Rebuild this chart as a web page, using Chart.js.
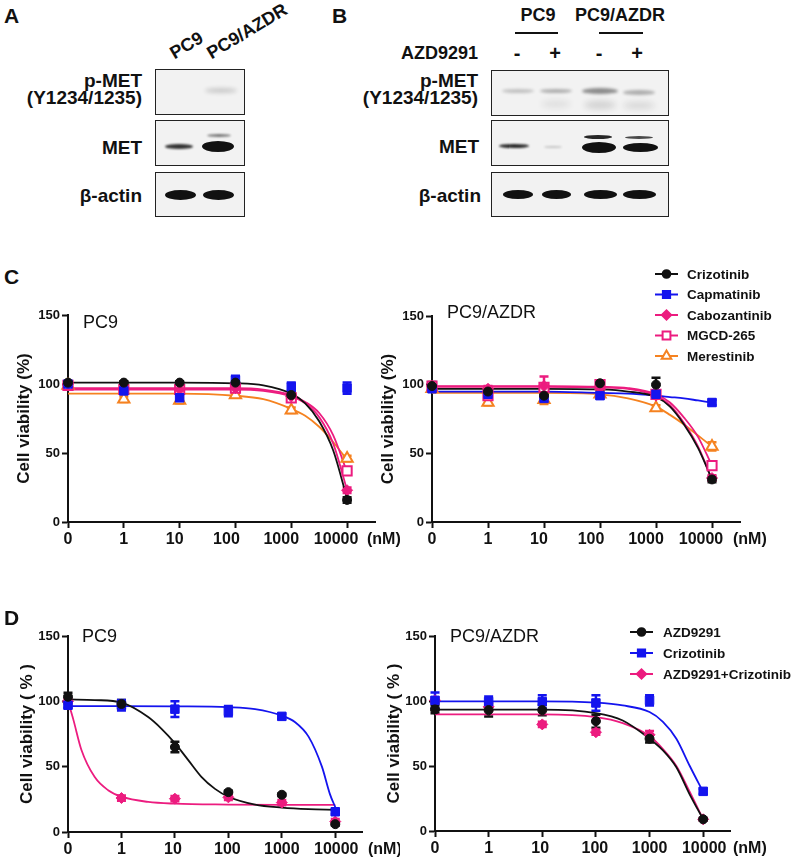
<!DOCTYPE html>
<html>
<head>
<meta charset="utf-8">
<script src="https://cdn.jsdelivr.net/npm/chart.js@4.4.1/dist/chart.umd.min.js"></script>
<style>
  body { margin: 0; background: #fff; }
  #fig { position: relative; width: 800px; height: 864px; overflow: hidden; background: #fff;
         font-family: "Liberation Sans", Arial, sans-serif; color: #111; }
  .lbl { position: absolute; font-weight: bold; white-space: nowrap; }
  .blot { position: absolute; border: 1.5px solid #222; background: #f2f2f2; box-sizing: border-box; }
  .band { position: absolute; border-radius: 50%; background: #111; }
  .rule { position: absolute; height: 2px; background: #111; }
  canvas { position: absolute; }
</style>
</head>
<body>
<div id="fig">
  <canvas id="cLeft"></canvas>
  <canvas id="cRight"></canvas>
  <canvas id="dLeft"></canvas>
  <canvas id="dRight"></canvas>
</div>
<script>
// ---- data ----
const xLabels = ['0', '1', '10', '100', '1000', '10000'];
const xPos = [0, 1, 2, 3, 4, 5];
const yTicks = [0, 50, 100, 150];

const cDrugs = ['Crizotinib', 'Capmatinib', 'Cabozantinib', 'MGCD-265', 'Merestinib'];
const dDrugs = ['AZD9291', 'Crizotinib', 'AZD9291+Crizotinib'];

// C - PC9 (mean %, in cDrugs order)
const cPc9Crizotinib   = [101, 101, 101, 101, 92, 16];
const cPc9Capmatinib   = [100, 95, 90, 103, 98, 97];
const cPc9Cabozantinib = [100, 96, 96, 97, 91, 23];
const cPc9Mgcd         = [99, 96, 96, 97, 90, 37];
const cPc9Merestinib   = [99, 89, 88, 92, 81, 46];
const cPc9Err = [[1, 1, 1, 1, 2, 2], [1, 2, 2, 3, 3, 4], [1, 1, 1, 1, 2, 2], [1, 1, 1, 1, 2, 2], [1, 2, 2, 1, 2, 2]];

// C - PC9/AZDR
const cAzdrCrizotinib   = [99, 95, 92, 101, 100, 31];
const cAzdrCapmatinib   = [97, 93, 90, 92, 93, 87];
const cAzdrCabozantinib = [99, 97, 99, 98, 92, 32];
const cAzdrMgcd         = [99, 92, 98, 100, 93, 41];
const cAzdrMerestinib   = [97, 87, 89, 93, 83, 55];
const cAzdrErr = [[3, 2, 2, 2, 5, 2], [2, 2, 2, 2, 2, 2], [2, 2, 7, 2, 2, 2], [2, 2, 3, 2, 2, 2], [2, 2, 3, 2, 2, 3]];

// C - fitted curves
const cFitX = [0, 1, 2, 3, 3.5, 4, 4.25, 4.5, 4.75, 5];
const cPc9FitCrizotinib   = [101, 101, 101, 100.5, 99, 93, 86, 73, 52, 17];
const cPc9FitCabozantinib = [96, 96, 96, 96, 95, 91, 86, 76, 57, 23];
const cPc9FitMgcd         = [97, 97, 97, 97, 96, 92, 87, 79, 63, 36];
const cPc9FitMerestinib   = [93, 93, 93, 91.5, 89, 82, 77, 69, 58, 45];
const cAzdrFitCrizotinib   = [97, 97, 97, 96.5, 95, 91, 84, 71, 54, 31];
const cAzdrFitCapmatinib   = [95, 95, 95, 94, 93.5, 92, 91, 90, 88.5, 87];
const cAzdrFitCabozantinib = [98.5, 98.5, 98.5, 98, 97, 92, 85, 72, 55, 31];
const cAzdrFitMgcd         = [99, 99, 99, 98.5, 97.5, 93, 87, 76, 62, 41];
const cAzdrFitMerestinib   = [94, 94, 94, 93, 90, 84, 78, 71, 63, 55];

// D - PC9
const dPc9Azd   = [103.5, 98, 65, 30.5, 28.5, 6];
const dPc9Criz  = [97, 97, 94, 92.5, 88.5, 15.5];
const dPc9Combo = [100, 26, 25.5, 26.5, 22.5, 8];
const dPc9Err = [[3, 3, 4, 1, 1, 1], [2, 4, 6, 4, 2, 2], [2, 2, 2, 2, 2, 2]];
const dPc9FitAzdX   = [0, 0.5, 1, 1.5, 1.75, 2, 2.25, 2.5, 2.75, 3, 3.5, 4, 4.5, 5];
const dPc9FitAzd    = [101.5, 101, 99, 88, 79, 68, 55, 42, 33, 27, 21, 18.7, 17.5, 17];
const dPc9FitCrizX  = [0, 1, 2, 3, 3.5, 4, 4.25, 4.5, 4.75, 4.9, 5];
const dPc9FitCriz   = [96.4, 96.4, 96.2, 95.5, 94, 89, 84, 73, 50, 29, 19];
const dPc9FitComboX = [0, 0.1, 0.25, 0.5, 0.75, 1, 1.5, 2, 3, 4, 5];
const dPc9FitCombo  = [100, 86, 63, 42, 32, 27, 23, 21.7, 21, 20.7, 20.7];

// D - PC9/AZDR
const dAzdrAzd   = [93.5, 93, 93, 84.5, 71, 9];
const dAzdrCriz  = [100.5, 99.5, 99.5, 98.5, 100.5, 30.5];
const dAzdrCombo = [100.5, 95.5, 82, 76, 74, 9];
const dAzdrErr = [[3, 5, 4, 5, 3, 1], [6, 4, 5, 6, 4, 2], [2, 3, 2, 2, 3, 1]];
const dFitX = [0, 1, 2, 3, 3.5, 4, 4.25, 4.5, 4.75, 5];
const dAzdrFitAzd   = [93.3, 93.3, 93.3, 90.7, 85, 71, 62, 49, 28, 9];
const dAzdrFitCriz  = [99.7, 99.7, 99.7, 98.7, 96.6, 91.5, 84, 71, 50, 30];
const dAzdrFitCombo = [89.7, 89.7, 89.7, 87.6, 83, 73, 63, 50, 30, 9];

// ---- styles ----
const FONT = '"Liberation Sans", Arial, sans-serif';
Chart.defaults.font.family = FONT;
const BLACK = '#111111', BLUE = '#1414ee', PINK = '#ec1c7f', ORANGE = '#f58220';
const stCrizotinib = { color: BLACK, shape: 'circle', r: 4.5 };
const stCapmatinib = { color: BLUE, shape: 'rect', r: 6 };
const stCabozantinib = { color: PINK, shape: 'rectRot', r: 5.5 };
const stMgcd = { color: PINK, shape: 'rect', r: 6.5, open: true };
const stMerestinib = { color: ORANGE, shape: 'triangle', r: 6.5, open: true };
const cStyles = [stCrizotinib, stCapmatinib, stCabozantinib, stMgcd, stMerestinib];
const dStyles = [stCrizotinib, stCapmatinib, stCabozantinib];

function pointSet(name, vals, err, st) {
  return {
    label: name,
    data: vals.map((v, i) => ({ x: xPos[i], y: v })),
    err: err,
    showLine: false,
    pointStyle: st.shape,
    pointRadius: st.r,
    pointHoverRadius: st.r,
    pointBackgroundColor: st.open ? '#ffffff' : st.color,
    pointBorderColor: st.color,
    pointBorderWidth: st.open ? 2 : 1,
    borderColor: st.color,
    clip: false,
    order: 0
  };
}

function fitSet(fx, fy, st) {
  return {
    data: fx.map((x, i) => ({ x: x, y: fy[i] })),
    borderColor: st.color,
    borderWidth: 1.8,
    pointRadius: 0,
    cubicInterpolationMode: 'monotone',
    fill: false,
    clip: false,
    order: 1
  };
}

// error bars drawn under the markers
const errorBars = {
  id: 'errorBars',
  beforeDatasetsDraw(chart) {
    const ctx = chart.ctx;
    const ys = chart.scales.y;
    chart.data.datasets.forEach((ds, i) => {
      if (!ds.err) return;
      const meta = chart.getDatasetMeta(i);
      ctx.save();
      ctx.strokeStyle = ds.borderColor;
      ctx.lineWidth = 2.5;
      meta.data.forEach((pt, j) => {
        const e = ds.err[j];
        if (!e) return;
        const v = ds.data[j].y;
        const top = ys.getPixelForValue(v + e);
        const bot = ys.getPixelForValue(v - e);
        ctx.beginPath();
        ctx.moveTo(pt.x, top); ctx.lineTo(pt.x, bot);
        ctx.moveTo(pt.x - 4.5, top); ctx.lineTo(pt.x + 4.5, top);
        ctx.moveTo(pt.x - 4.5, bot); ctx.lineTo(pt.x + 4.5, bot);
        ctx.stroke();
      });
      ctx.restore();
    });
  }
};

// x labels, panel name, unit label and legend
const panelText = {
  id: 'panelText',
  afterDraw(chart, args, opts) {
    const { ctx, chartArea } = chart;
    const xs = chart.scales.x;
    ctx.save();
    ctx.fillStyle = BLACK;
    ctx.textBaseline = 'middle';

    // dose labels (slightly nudged like the original)
    ctx.font = 'bold 16px ' + FONT;
    ctx.textAlign = 'center';
    xPos.forEach((v, i) => {
      ctx.fillText(xLabels[i], xs.getPixelForValue(v) + opts.labelShift[i], xs.top + 18);
    });

    ctx.textAlign = 'left';
    ctx.fillText('(nM)', chartArea.right + opts.nmDx, xs.top + 18);
    ctx.font = '18px ' + FONT;
    ctx.fillText(opts.title, chartArea.left + opts.titleDx, chartArea.top + opts.titleDy);

    if (opts.legend) {
      const lg = opts.legend;
      lg.names.forEach((name, i) => {
        const st = lg.styles[i];
        const y = lg.y + i * lg.dy;
        ctx.strokeStyle = st.color;
        ctx.lineWidth = 2;
        ctx.beginPath();
        ctx.moveTo(lg.x, y); ctx.lineTo(lg.x + 23, y);
        ctx.stroke();
        ctx.fillStyle = st.open ? '#ffffff' : st.color;
        Chart.helpers.drawPoint(ctx, { pointStyle: st.shape, radius: st.r * 0.85, rotation: 0, borderWidth: st.open ? 2 : 1 }, lg.x + 11.5, y);
        ctx.fillStyle = BLACK;
        ctx.font = 'bold 13.5px ' + FONT;
        ctx.fillText(name, lg.textX, y + 1);
      });
    }
    ctx.restore();
  }
};

function makeChart(id, geo, datasets, text) {
  const cv = document.getElementById(id);
  cv.style.left = geo.left + 'px';
  cv.style.top = geo.top + 'px';
  cv.width = geo.width;
  cv.height = geo.height;
  return new Chart(cv, {
    type: 'line',
    data: { datasets: datasets },
    options: {
      responsive: false,
      animation: false,
      devicePixelRatio: 1,
      layout: { padding: { left: 0, top: geo.y150 - geo.top, right: geo.left + geo.width - geo.axisEnd, bottom: 0 } },
      plugins: { legend: { display: false }, tooltip: { enabled: false }, panelText: text },
      scales: {
        x: {
          type: 'linear', min: 0, max: 5.5,
          afterBuildTicks: s => { s.ticks = xPos.map(v => ({ value: v })); },
          afterFit: s => { s.height = geo.top + geo.height - geo.y0; },
          grid: { display: true, drawOnChartArea: false, drawTicks: true, tickLength: 6, tickWidth: 2, tickColor: BLACK },
          border: { display: true, color: BLACK, width: 2 },
          ticks: { display: false }
        },
        y: {
          min: 0, max: 150,
          afterBuildTicks: s => { s.ticks = yTicks.map(v => ({ value: v })); },
          afterFit: s => { s.width = geo.axisX - geo.left; },
          grid: { display: true, drawOnChartArea: false, drawTicks: true, tickLength: 6, tickWidth: 2, tickColor: BLACK },
          border: { display: true, color: BLACK, width: 2 },
          ticks: { color: BLACK, padding: 2, font: { size: 13, weight: 'bold' } },
          title: { display: true, text: geo.yTitle, color: BLACK,
                   font: { size: 17, weight: 'bold' }, padding: { top: geo.titlePad, bottom: 0 } }
        }
      }
    },
    plugins: [errorBars, panelText]
  });
}

// ---- panel C ----
const cPc9Vals = [cPc9Crizotinib, cPc9Capmatinib, cPc9Cabozantinib, cPc9Mgcd, cPc9Merestinib];
const cPc9Fits = [cPc9FitCrizotinib, null, cPc9FitCabozantinib, cPc9FitMgcd, cPc9FitMerestinib];
const cAzdrVals = [cAzdrCrizotinib, cAzdrCapmatinib, cAzdrCabozantinib, cAzdrMgcd, cAzdrMerestinib];
const cAzdrFits = [cAzdrFitCrizotinib, cAzdrFitCapmatinib, cAzdrFitCabozantinib, cAzdrFitMgcd, cAzdrFitMerestinib];

const cLeftSets = [];
const cRightSets = [];
cDrugs.forEach((name, i) => {
  cLeftSets.push(pointSet(name, cPc9Vals[i], cPc9Err[i], cStyles[i]));
  if (cPc9Fits[i]) cLeftSets.push(fitSet(cFitX, cPc9Fits[i], cStyles[i]));
  cRightSets.push(pointSet(name, cAzdrVals[i], cAzdrErr[i], cStyles[i]));
  cRightSets.push(fitSet(cFitX, cAzdrFits[i], cStyles[i]));
});

const cShift = [0, 0, -5, -9, -10, -11];
const dShift = [0, 0, -2, -1, 0, 1];

makeChart('cLeft',
  { left: 0, top: 290, width: 400, height: 270, axisX: 68, axisEnd: 375, y150: 315, y0: 522, titlePad: 14, yTitle: 'Cell viability (%)' },
  cLeftSets, { title: 'PC9', titleDx: 15, titleDy: 8, nmDx: -8, labelShift: cShift });

makeChart('cRight',
  { left: 360, top: 255, width: 440, height: 305, axisX: 432, axisEnd: 740, y150: 316, y0: 522, titlePad: 18, yTitle: 'Cell viability (%)' },
  cRightSets, { title: 'PC9/AZDR', titleDx: 15, titleDy: -3, nmDx: -7, labelShift: cShift,
                legend: { names: cDrugs, styles: cStyles, x: 295, y: 19, dy: 20.5, textX: 327 } });

// ---- panel D ----
const dPc9Vals = [dPc9Azd, dPc9Criz, dPc9Combo];
const dPc9FitXs = [dPc9FitAzdX, dPc9FitCrizX, dPc9FitComboX];
const dPc9Fits = [dPc9FitAzd, dPc9FitCriz, dPc9FitCombo];
const dAzdrVals = [dAzdrAzd, dAzdrCriz, dAzdrCombo];
const dAzdrFits = [dAzdrFitAzd, dAzdrFitCriz, dAzdrFitCombo];

const dLeftSets = [];
const dRightSets = [];
dDrugs.forEach((name, i) => {
  dLeftSets.push(pointSet(name, dPc9Vals[i], dPc9Err[i], dStyles[i]));
  dLeftSets.push(fitSet(dPc9FitXs[i], dPc9Fits[i], dStyles[i]));
  dRightSets.push(pointSet(name, dAzdrVals[i], dAzdrErr[i], dStyles[i]));
  dRightSets.push(fitSet(dFitX, dAzdrFits[i], dStyles[i]));
});

makeChart('dLeft',
  { left: 0, top: 610, width: 400, height: 254, axisX: 68, axisEnd: 362, y150: 636, y0: 832, titlePad: 17, yTitle: 'Cell viability ( % )' },
  dLeftSets, { title: 'PC9', titleDx: 14, titleDy: 1, nmDx: 6, labelShift: dShift });

makeChart('dRight',
  { left: 360, top: 610, width: 440, height: 254, axisX: 435, axisEnd: 730, y150: 636, y0: 831, titlePad: 24, yTitle: 'Cell viability ( % )' },
  dRightSets, { title: 'PC9/AZDR', titleDx: 15, titleDy: 1, nmDx: 3, labelShift: dShift,
                legend: { names: dDrugs, styles: dStyles, x: 270, y: 22, dy: 21, textX: 303 } });

// ---- western blots (panels A, B) ----
const fig = document.getElementById('fig');

function label(txt, x, cy, size, align) {
  const d = document.createElement('div');
  d.className = 'lbl';
  d.textContent = txt;
  d.style.fontSize = size + 'px';
  d.style.lineHeight = size + 'px';
  d.style.top = (cy - size / 2) + 'px';
  if (align === 'right') d.style.right = (800 - x) + 'px';
  else if (align === 'center') { d.style.left = x + 'px'; d.style.transform = 'translateX(-50%)'; }
  else d.style.left = x + 'px';
  fig.appendChild(d);
  return d;
}

function box(x, y, w, h) {
  const d = document.createElement('div');
  d.className = 'blot';
  Object.assign(d.style, { left: x + 'px', top: y + 'px', width: w + 'px', height: h + 'px' });
  fig.appendChild(d);
}

function band(cx, cy, w, h, alpha, blur) {
  const d = document.createElement('div');
  d.className = 'band';
  Object.assign(d.style, {
    left: (cx - w / 2) + 'px', top: (cy - h / 2) + 'px', width: w + 'px', height: h + 'px',
    opacity: alpha, filter: 'blur(' + blur + 'px)'
  });
  fig.appendChild(d);
}

function rule(x1, x2, y) {
  const d = document.createElement('div');
  d.className = 'rule';
  Object.assign(d.style, { left: x1 + 'px', top: (y - 1) + 'px', width: (x2 - x1) + 'px' });
  fig.appendChild(d);
}

// panel letters
label('A', 4, 15, 21, 'left');
label('B', 332, 15, 21, 'left');
label('C', 4, 276, 21, 'left');
label('D', 4, 617, 21, 'left');

// A
box(155, 69, 90, 46);
box(155, 120, 90, 46);
box(155, 172, 90, 45);
label('p-MET', 142, 80, 19, 'right');
label('(Y1234/1235)', 142, 97, 19, 'right');
label('MET', 142, 147, 19, 'right');
label('\u03b2-actin', 142, 195, 19, 'right');
[['PC9', 176, 62], ['PC9/AZDR', 213, 62]].forEach(([t, x, y]) => {
  const d = label(t, x, y - 9, 18, 'left');
  d.style.transformOrigin = '0 100%';
  d.style.transform = 'rotate(-31deg)';
});
band(221, 90, 32, 5, 0.18, 2);
band(179, 146, 28, 5, 0.85, 0.8);
band(219, 135, 24, 3, 0.55, 0.8);
band(218, 146, 32, 11, 1, 0.6);
band(180, 195, 31, 10, 1, 0.6);
band(218, 195, 31, 10, 1, 0.6);

// B
box(491, 70, 178, 46);
box(491, 120, 178, 46);
box(491, 172, 178, 45);
label('PC9', 538, 15, 18, 'center');
label('PC9/AZDR', 620, 15, 18, 'center');
rule(515, 558, 33);
rule(599, 643, 33);
label('AZD9291', 478, 53, 18, 'right');
label('-', 517, 53, 20, 'center');
label('+', 555, 53, 20, 'center');
label('-', 599, 53, 20, 'center');
label('+', 637, 53, 20, 'center');
label('p-MET', 478, 80, 19, 'right');
label('(Y1234/1235)', 478, 97, 19, 'right');
label('MET', 479, 146, 19, 'right');
label('\u03b2-actin', 481, 195, 19, 'right');
band(518, 91, 32, 4, 0.22, 1.5);
band(556, 91, 32, 4, 0.3, 1.5);
band(600, 91, 36, 6, 0.45, 1.5);
band(639, 92, 32, 5, 0.3, 1.5);
band(556, 104, 30, 8, 0.08, 3);
band(600, 105, 32, 8, 0.15, 3);
band(639, 105, 32, 7, 0.12, 3);
band(514, 146, 30, 4, 0.9, 0.8);
band(553, 147, 18, 2, 0.2, 0.8);
band(598, 137, 28, 4, 0.9, 0.6);
band(599, 147, 34, 11, 1, 0.6);
band(639, 137, 28, 3, 0.75, 0.6);
band(640, 147, 35, 9, 1, 0.6);
band(518, 194, 30, 9, 1, 0.6);
band(556, 194, 29, 9, 1, 0.6);
band(600, 194, 33, 9, 1, 0.6);
band(639, 194, 33, 9, 1, 0.6);
</script>
</body>
</html>
